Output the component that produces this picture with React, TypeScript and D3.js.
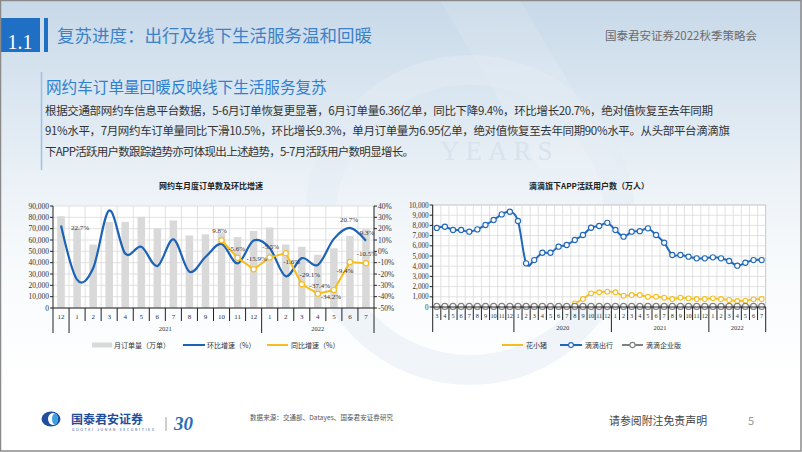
import React from 'react';
import * as d3 from 'd3';

// 网约车月度订单数及环比增速 (2020-12 .. 2022-07)
const leftMonths = ['12', '1', '2', '3', '4', '5', '6', '7', '8', '9', '10', '11', '12', '1', '2', '3', '4', '5', '6', '7'];
const leftYears = [
  { year: '', count: 1 },
  { year: '2021', count: 12 },
  { year: '2022', count: 7 },
];
const orders = [81000, 71000, 56000, 76000, 76000, 80500, 70200, 77200, 64000, 65000, 66000, 62500, 68000, 71000, 56000, 54000, 47000, 52700, 63600, 69500];
const momGrowth = [22.7, -25, -15, 36, -2, 4, -13, 10.6, -18, -5, 6.5, -10.6, 9.5, 3, -22, -6, -12, 11, 20.7, 9.3];
const yoyGrowth: (number | null)[] = [null, null, null, null, null, null, null, null, null, null, 9.8, -5.6, -15.9, -5.5, -1.6, -29.1, -37.4, -34.2, -9.4, -10.5];
const momLabelAt = [0, 18, 19];

// 滴滴旗下APP活跃用户数 (2019-03 .. 2022-07)
const rightMonths = [
  '3', '4', '5', '6', '7', '8', '9', '10', '11', '12',
  '1', '2', '3', '4', '5', '6', '7', '8', '9', '10', '11', '12',
  '1', '2', '3', '4', '5', '6', '7', '8', '9', '10', '11', '12',
  '1', '2', '3', '4', '5', '6', '7',
];
const rightYears = [
  { year: '', count: 10 },
  { year: '2020', count: 12 },
  { year: '2021', count: 12 },
  { year: '2022', count: 7 },
];
const didi = [7750, 7870, 7550, 7550, 7380, 7610, 8040, 8530, 9080, 9340, 8430, 4280, 4600, 5320, 5320, 5910, 6080, 6570, 7060, 7770, 7940, 8250, 7550, 6890, 7380, 7430, 7710, 7060, 6300, 5100, 5100, 4930, 4770, 4770, 4870, 4770, 4510, 4050, 4340, 4600, 4600];
const huaxiaozhu: (number | null)[] = [null, null, null, null, null, null, null, null, null, null, null, null, null, null, null, null, null, 360, 780, 1340, 1440, 1500, 1440, 1110, 1170, 1170, 1010, 1010, 910, 780, 910, 850, 780, 780, 850, 780, 690, 590, 620, 750, 780];
const didiEnterprise = [60, 60, 60, 60, 60, 60, 60, 60, 60, 60, 60, 60, 60, 60, 60, 60, 60, 60, 60, 60, 60, 60, 60, 60, 60, 60, 60, 60, 60, 60, 60, 60, 60, 60, 60, 60, 60, 60, 60, 60, 60];

const paragraph = [
  '根据交通部网约车信息平台数据，5-6月订单恢复更显著，6月订单量6.36亿单，同比下降9.4%，环比增长20.7%，绝对值恢复至去年同期',
  '91%水平，7月网约车订单量同比下滑10.5%，环比增长9.3%，单月订单量为6.95亿单，绝对值恢复至去年同期90%水平。从头部平台滴滴旗',
  '下APP活跃用户数跟踪趋势亦可体现出上述趋势，5-7月活跃用户数明显增长。',
];
const paragraphWidths = [668, 685, 369];

// label nudges (dx, dy) relative to the data point
const yoyNudge: [number, number][] = [[-2, -7], [-1, -7], [3, -8], [1, -9], [6, 11], [8, -7], [2, -6], [-3, 9], [-5, 11], [1, -7]];
const momNudge: [number, number][] = [[19, 4], [-1, -6], [1, -6]];

const CJK = '"Noto Sans CJK SC", "Noto Sans", sans-serif';
const SERIF = '"Liberation Serif", "DejaVu Serif", serif';
const BLUE = '#1c63b7';
const GOLD = '#f5be1e';
const GRID = '#d9d9d9';

function CategoryAxis({ x0, x1, y, months, groups, fontSize }: any) {
  const n = months.length;
  const step = (x1 - x0) / n;
  const bounds = [0];
  groups.forEach((g: any) => bounds.push(bounds[bounds.length - 1] + g.count));
  return (
    <g>
      <line x1={x0} x2={x1} y1={y} y2={y} stroke="#222" strokeWidth={1} />
      {d3.range(1, n).filter(i => !bounds.includes(i)).map(i => (
        <line key={'s' + i} x1={x0 + i * step} x2={x0 + i * step} y1={y} y2={y + 13} stroke="#222" strokeWidth={1} />
      ))}
      {bounds.map(i => (
        <line key={'l' + i} x1={x0 + i * step} x2={x0 + i * step} y1={y} y2={y + 25} stroke="#222" strokeWidth={1} />
      ))}
      {months.map((m: string, i: number) => (
        <text key={'m' + i} x={x0 + (i + 0.5) * step} y={y + 11} textAnchor="middle" fontSize={fontSize} fontFamily={SERIF} fill="#333">{m}</text>
      ))}
      {groups.map((g: any, k: number) => (
        <text key={'y' + k} x={x0 + ((bounds[k] + bounds[k + 1]) / 2) * step} y={y + 22.5} textAnchor="middle" fontSize={6.5} fontFamily={SERIF} fill="#333">{g.year}</text>
      ))}
    </g>
  );
}

function OrdersChart() {
  const left = 53, right = 374, top = 206, bottom = 308;
  const n = leftMonths.length;
  const x = d3.scaleBand<number>().domain(d3.range(n)).range([left, right]).paddingInner(0.53).paddingOuter(0.265);
  const step = x.step();
  const cx = (i: number) => (x(i) as number) + x.bandwidth() / 2;
  const yL = d3.scaleLinear().domain([0, 90000]).range([bottom, top]);
  const yR = d3.scaleLinear().domain([-50, 40]).range([bottom, top]);

  const momLine = d3.line<number>().x((_, i) => cx(i)).y(d => yR(d)).curve(d3.curveCatmullRom.alpha(0));
  const yoyLine = d3.line<number | null>().defined(d => d != null).x((_, i) => cx(i)).y(d => yR(d as number));
  const yoyPoints = yoyGrowth.map((v, i) => ({ v, i })).filter(p => p.v != null) as { v: number; i: number }[];

  return (
    <g>
      <text x={211} y={189} textAnchor="middle" fontSize={8} fontWeight="bold" fontFamily={CJK} fill="#222">网约车月度订单数及环比增速</text>
      <rect x={left} y={top} width={right - left} height={bottom - top} fill="#fff" />
      {yL.ticks(9).map(t => (
        <line key={'h' + t} x1={left} x2={right} y1={yL(t)} y2={yL(t)} stroke={GRID} strokeWidth={0.8} />
      ))}
      {d3.range(1, n).map(i => (
        <line key={'v' + i} x1={left + i * step} x2={left + i * step} y1={top} y2={bottom} stroke={GRID} strokeWidth={0.8} />
      ))}
      {orders.map((v, i) => (
        <rect key={'b' + i} x={x(i)} y={yL(v)} width={x.bandwidth()} height={bottom - yL(v)} fill="#d9d9d9" />
      ))}
      <line x1={left} x2={left} y1={top} y2={bottom} stroke="#222" />
      <line x1={right} x2={right} y1={top} y2={bottom} stroke="#222" />
      {yL.ticks(9).map(t => (
        <g key={'yl' + t}>
          <line x1={left - 3} x2={left} y1={yL(t)} y2={yL(t)} stroke="#222" />
          <text x={left - 4} y={yL(t) + 2.5} textAnchor="end" fontSize={7.5} fontFamily={SERIF} fill="#333">{d3.format(',')(t)}</text>
        </g>
      ))}
      {yR.ticks(9).map(t => (
        <g key={'yr' + t}>
          <line x1={right} x2={right + 3} y1={yR(t)} y2={yR(t)} stroke="#222" />
          <text x={right + 4} y={yR(t) + 2.5} textAnchor="start" fontSize={7.5} fontFamily={SERIF} fill="#333">{t}%</text>
        </g>
      ))}
      <path d={momLine(momGrowth) || ''} fill="none" stroke={BLUE} strokeWidth={2.2} />
      <path d={yoyLine(yoyGrowth) || ''} fill="none" stroke={GOLD} strokeWidth={2} />
      {yoyPoints.map(p => (
        <circle key={'c' + p.i} cx={cx(p.i)} cy={yR(p.v)} r={2.6} fill="#fff" stroke={GOLD} strokeWidth={1.2} />
      ))}
      {yoyPoints.map((p, k) => (
        <text key={'yt' + p.i} x={cx(p.i) + yoyNudge[k][0]} y={yR(p.v) + yoyNudge[k][1]} textAnchor="middle" fontSize={7} fontFamily={SERIF} fill="#333">{p.v}%</text>
      ))}
      {momLabelAt.map((i, k) => (
        <text key={'mt' + i} x={cx(i) + momNudge[k][0]} y={yR(momGrowth[i]) + momNudge[k][1]} textAnchor="middle" fontSize={7} fontFamily={SERIF} fill="#333">{momGrowth[i]}%</text>
      ))}
      <CategoryAxis x0={left} x1={right} y={bottom} months={leftMonths} groups={leftYears} fontSize={7} />
      {/* legend */}
      <g fontFamily={CJK} fontSize={7} fill="#333">
        <line x1={92} x2={112} y1={345} y2={345} stroke="#d9d9d9" strokeWidth={5} />
        <text x={114} y={347.5}>月订单量（万单）</text>
        <line x1={183} x2={205} y1={345} y2={345} stroke={BLUE} strokeWidth={2} />
        <text x={207} y={347.5}>环比增速（%）</text>
        <line x1={267} x2={288} y1={345} y2={345} stroke={GOLD} strokeWidth={2} />
        <text x={291} y={347.5}>同比增速（%）</text>
      </g>
    </g>
  );
}

function UsersChart() {
  const left = 432.7, right = 765.7, top = 205, bottom = 307;
  const n = rightMonths.length;
  const step = (right - left) / n;
  const x = d3.scaleLinear().domain([0, n]).range([left, right]);
  const cx = (i: number) => x(i + 0.5);
  const y = d3.scaleLinear().domain([0, 10000]).range([bottom, top]);
  const smooth = d3.line<number | null>().defined(d => d != null).x((_, i) => cx(i)).y(d => y(d as number)).curve(d3.curveCatmullRom.alpha(0));
  const flat = d3.line<number>().x((_, i) => cx(i)).y(d => y(d));

  const markers = (vals: (number | null)[], color: string, r: number, key: string) =>
    vals.map((v, i) => v == null ? null : (
      <circle key={key + i} cx={cx(i)} cy={y(v)} r={r} fill="#fff" stroke={color} strokeWidth={1.1} />
    ));

  return (
    <g>
      <text x={589} y={189} textAnchor="middle" fontSize={8} fontWeight="bold" fontFamily={CJK} fill="#222">滴滴旗下APP活跃用户数（万人）</text>
      <rect x={left} y={top} width={right - left} height={bottom - top} fill="#fff" stroke="#bbb" strokeWidth={0.8} />
      {y.ticks(10).map(t => (
        <line key={'h' + t} x1={left} x2={right} y1={y(t)} y2={y(t)} stroke={GRID} strokeWidth={0.8} />
      ))}
      {d3.range(1, n).map(i => (
        <line key={'v' + i} x1={left + i * step} x2={left + i * step} y1={top} y2={bottom} stroke={GRID} strokeWidth={0.8} />
      ))}
      <line x1={left} x2={left} y1={top} y2={bottom} stroke="#222" />
      {y.ticks(10).map(t => (
        <g key={'yl' + t}>
          <line x1={left - 3} x2={left} y1={y(t)} y2={y(t)} stroke="#222" />
          <text x={left - 4} y={y(t) + 2.5} textAnchor="end" fontSize={7.2} fontFamily={SERIF} fill="#333">{d3.format(',')(t)}</text>
        </g>
      ))}
      <path d={smooth(huaxiaozhu) || ''} fill="none" stroke={GOLD} strokeWidth={1.8} />
      {markers(huaxiaozhu, GOLD, 2.4, 'hx')}
      <path d={smooth(didi) || ''} fill="none" stroke="#2068b8" strokeWidth={2} />
      {markers(didi, '#2068b8', 2.6, 'dd')}
      <path d={flat(didiEnterprise) || ''} fill="none" stroke="#808080" strokeWidth={1.6} />
      {markers(didiEnterprise, '#808080', 3, 'de')}
      <CategoryAxis x0={left} x1={right} y={bottom} months={rightMonths} groups={rightYears} fontSize={6.3} />
      <g fontFamily={CJK} fontSize={7} fill="#333">
        <line x1={502} x2={523} y1={345} y2={345} stroke={GOLD} strokeWidth={2} />
        <text x={526} y={347.5}>花小猪</text>
        <line x1={560} x2={582} y1={345} y2={345} stroke="#2068b8" strokeWidth={2} />
        <circle cx={571} cy={345} r={2.4} fill="#fff" stroke="#2068b8" strokeWidth={1.1} />
        <text x={585} y={347.5}>滴滴出行</text>
        <line x1={622} x2={643} y1={345} y2={345} stroke="#808080" strokeWidth={2} />
        <circle cx={632.5} cy={345} r={2.6} fill="#fff" stroke="#808080" strokeWidth={1.1} />
        <text x={646} y={347.5}>滴滴企业版</text>
      </g>
    </g>
  );
}

export default function App() {
  return (
    <div style={{ position: 'absolute', left: 0, top: 0 }}>
      <style>{'body{margin:0}'}</style>
      <svg width={802} height={452} viewBox="0 0 802 452" style={{ display: 'block' }}>
        <defs>
          <linearGradient id="bg" x1="0" y1="0" x2="0" y2="1">
            <stop offset="0" stopColor="#c7d8e8" />
            <stop offset="0.14" stopColor="#d4e2ee" />
            <stop offset="0.38" stopColor="#e9f0f6" />
            <stop offset="0.55" stopColor="#f6f9fb" />
            <stop offset="0.85" stopColor="#ffffff" />
          </linearGradient>
        </defs>
        <rect x={0} y={0} width={802} height={452} fill="url(#bg)" />
        <polygon points="440,0 520,0 620,170 540,170" fill="#ffffff" opacity={0.12} />
        <circle cx={470} cy={220} r={150} fill="none" stroke="#e3ebf3" strokeWidth={30} opacity={0.5} />
        <text x={440} y={160} fontSize={27} fontFamily={SERIF} fill="#d9e3ed" letterSpacing={6}>YEARS</text>

        {/* header */}
        <rect x={0} y={18} width={40} height={34} fill="#1f6fc5" />
        <text x={20} y={49} textAnchor="middle" fontSize={20} fontFamily={SERIF} fill="#fff">1.1</text>
        <rect x={44} y={18} width={4} height={34} fill="#1f6fc5" />
        <text x={57} y={42} fontSize={17.5} fontFamily={CJK} fill="#3d82c8">复苏进度：出行及线下生活服务温和回暖</text>
        <text x={757} y={39.5} textAnchor="end" fontSize={11.5} fontFamily={CJK} fill="#6b6b6b">国泰君安证券2022秋季策略会</text>

        {/* subtitle + paragraph */}
        <line x1={41.5} x2={41.5} y1={72} y2={170} stroke="#9cc3e6" strokeWidth={1.5} />
        <text x={46} y={93} fontSize={15.6} fontFamily={CJK} fill="#2f80d1">网约车订单量回暖反映线下生活服务复苏</text>
        {paragraph.map((line, i) => (
          <text key={i} x={45} y={114.5 + i * 20.5} fontSize={11.5} fontFamily={CJK} fill="#333"
            textLength={paragraphWidths[i]} lengthAdjust="spacing">{line}</text>
        ))}

        <OrdersChart />
        <UsersChart />

        {/* footer */}
        <rect x={0} y={395} width={802} height={57} fill="#fff" />
        <ellipse cx={51} cy={419} rx={9.5} ry={7.5} fill="#1f4e9c" />
        <ellipse cx={53} cy={419} rx={5} ry={6} fill="#fff" />
        <ellipse cx={55} cy={419} rx={3} ry={5.5} fill="#3fa0e0" />
        <text x={71} y={424} fontSize={12} fontWeight="bold" fontFamily={CJK} fill="#1f4e9c">国泰君安证券</text>
        <text x={72} y={431} fontSize={3.6} fontFamily={CJK} fill="#1f4e9c" textLength={82}>GUOTAI JUNAN SECURITIES</text>
        <line x1={166} x2={166} y1={417} y2={431} stroke="#888" strokeWidth={0.8} />
        <text x={174} y={430} fontSize={19} fontWeight="bold" fontStyle="italic" fontFamily={SERIF} fill="#2a6cb6">30</text>
        <text x={250} y={419.5} fontSize={6.5} fontFamily={CJK} fill="#555" textLength={143} lengthAdjust="spacing">数据来源：交通部、Datayes、国泰君安证券研究</text>
        <text x={609} y={425} fontSize={10.9} fontFamily={CJK} fill="#444">请参阅附注免责声明</text>
        <text x={748} y={425} fontSize={11} fontFamily={CJK} fill="#999">5</text>

        <rect x={0.5} y={0.5} width={800.5} height={450.5} fill="none" stroke="#8a8a8a" strokeWidth={1.5} />
      </svg>
    </div>
  );
}
